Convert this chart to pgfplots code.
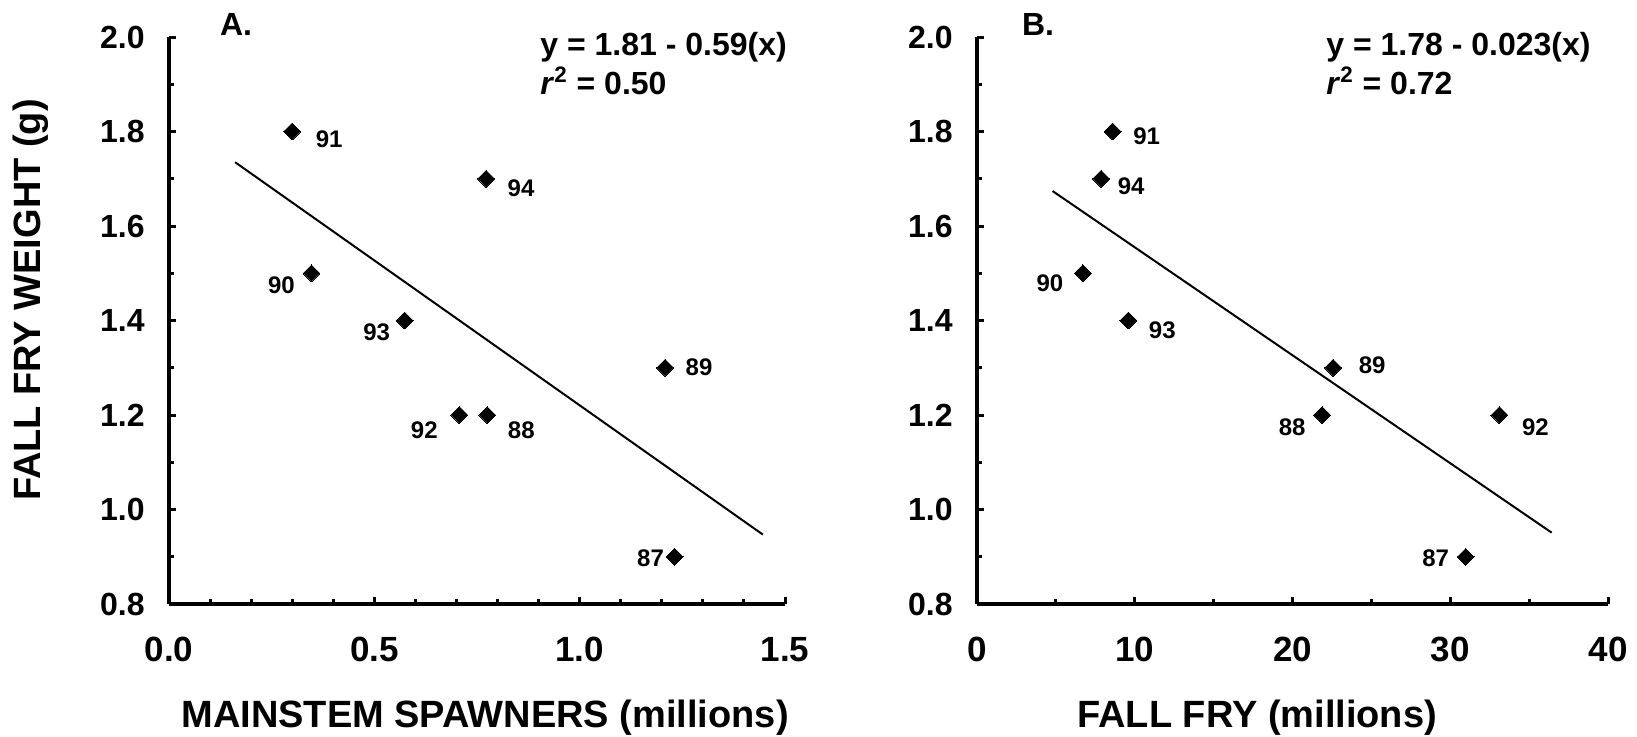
\documentclass[border=0pt]{standalone}
\usepackage{fontspec}
\setmainfont{Liberation Sans}
\usepackage{pgfplots}
\pgfplotsset{compat=1.18}

\pgfplotsset{
  fryaxis/.style={
    scale only axis,
    height=283.5pt,
    ymin=0.8, ymax=2.0,
    ytick={0.8,1.0,...,2.0},
    minor ytick={0.9,1.1,...,1.9},
    yticklabel style={/pgf/number format/.cd,fixed,fixed zerofill,precision=1,
      /tikz/.cd, font=\fontsize{16}{18}\selectfont\bfseries, inner sep=0pt, xshift=-12pt},
    xticklabel style={font=\fontsize{17.5}{20}\selectfont\bfseries, inner sep=0pt, yshift=-16.5pt},
    /pgf/number format/assume math mode=true,
    axis lines=left,
    axis line style={-, line width=2pt},
    tick align=inside,
    major tick length=3.5pt,
    minor tick length=2.5pt,
    tick style={line width=1.5pt, black},
    clip=false,
    label style={font=\fontsize{19}{22}\selectfont\bfseries},
  },
  pts/.style={only marks, mark=square*, mark size=3pt,
    mark options={rotate=45, fill=black, draw=black, line width=0pt}},
  fit/.style={no marks, line width=1pt, black},
}
\tikzset{
  yr/.style={font=\fontsize{12}{14}\selectfont\bfseries, inner sep=0pt},
  eq/.style={font=\fontsize{16}{18}\selectfont\bfseries, inner sep=0pt, anchor=west},
}

\begin{document}
\begin{tikzpicture}
\useasboundingbox (-84.5pt,-66pt) rectangle (734pt,302pt);

% Panel A: fry weight against mainstem spawners
\begin{axis}[fryaxis,
  at={(0pt,0pt)}, anchor=south west,
  width=308pt,
  xmin=0, xmax=1.5,
  xtick={0,0.5,1.0,1.5},
  minor xtick={0.1,0.2,...,1.4},
  xticklabel style={/pgf/number format/.cd,fixed,fixed zerofill,precision=1},
  xlabel={MAINSTEM SPAWNERS (millions)},
  xlabel style={at={(axis description cs:0.513,-0.201)}, anchor=center},
  ylabel={FALL FRY WEIGHT (g)},
  ylabel style={at={(axis description cs:-0.224,0.536)}, anchor=center, rotate=0},
]
\addplot[pts] coordinates {
  (1.231,0.9) (0.775,1.2) (1.208,1.3) (0.347,1.5)
  (0.300,1.8) (0.707,1.2) (0.574,1.4) (0.772,1.7)
};
\addplot[fit] coordinates {(0.161,1.735) (1.446,0.947)};
\node[yr, xshift=-12pt,   yshift=-0.5pt] at (axis cs:1.231,0.9) {87};
\node[yr, xshift=17pt,    yshift=-7.5pt] at (axis cs:0.775,1.2) {88};
\node[yr, xshift=17pt,    yshift=0.5pt]  at (axis cs:1.208,1.3) {89};
\node[yr, xshift=-15pt,   yshift=-6pt]   at (axis cs:0.347,1.5) {90};
\node[yr, xshift=18.5pt,  yshift=-4pt]   at (axis cs:0.300,1.8) {91};
\node[yr, xshift=-17.5pt, yshift=-7.5pt] at (axis cs:0.707,1.2) {92};
\node[yr, xshift=-14pt,   yshift=-6pt]   at (axis cs:0.574,1.4) {93};
\node[yr, xshift=17.5pt,  yshift=-4.5pt] at (axis cs:0.772,1.7) {94};
\end{axis}
\node[font=\fontsize{16}{18}\selectfont\bfseries] at (33.5pt,290pt) {A.};
\node[eq] at (185.5pt,278.5pt) {y = 1.81 - 0.59(x)};
\node[eq] at (185.5pt,261.5pt) {\textit{r}\textsuperscript{2} = 0.50};

% Panel B: fry weight against fall fry abundance
\begin{axis}[fryaxis,
  at={(404pt,0pt)}, anchor=south west,
  width=315.5pt,
  xmin=0, xmax=40,
  xtick={0,10,...,40},
  minor xtick={5,15,...,35},
  xlabel={FALL FRY (millions)},
  xlabel style={at={(axis description cs:0.444,-0.201)}, anchor=center},
]
\addplot[pts] coordinates {
  (30.98,0.9) (21.88,1.2) (22.58,1.3) (6.71,1.5)
  (8.60,1.8) (33.12,1.2) (9.59,1.4) (7.87,1.7)
};
\addplot[fit] coordinates {(4.79,1.674) (36.43,0.951)};
\node[yr, xshift=-15pt,   yshift=-0.5pt] at (axis cs:30.98,0.9) {87};
\node[yr, xshift=-15pt,   yshift=-6pt]   at (axis cs:21.88,1.2) {88};
\node[yr, xshift=19.5pt,  yshift=1.5pt]  at (axis cs:22.58,1.3) {89};
\node[yr, xshift=-16.5pt, yshift=-5pt]   at (axis cs:6.71,1.5) {90};
\node[yr, xshift=17pt,    yshift=-2.5pt] at (axis cs:8.60,1.8) {91};
\node[yr, xshift=18pt,    yshift=-6pt]   at (axis cs:33.12,1.2) {92};
\node[yr, xshift=17pt,    yshift=-5pt]   at (axis cs:9.59,1.4) {93};
\node[yr, xshift=15pt,    yshift=-3.5pt] at (axis cs:7.87,1.7) {94};
\end{axis}
\node[font=\fontsize{16}{18}\selectfont\bfseries] at (434.5pt,290pt) {B.};
\node[eq] at (578.5pt,278.5pt) {y = 1.78 - 0.023(x)};
\node[eq] at (578.5pt,261.5pt) {\textit{r}\textsuperscript{2} = 0.72};
\end{tikzpicture}
\end{document}
